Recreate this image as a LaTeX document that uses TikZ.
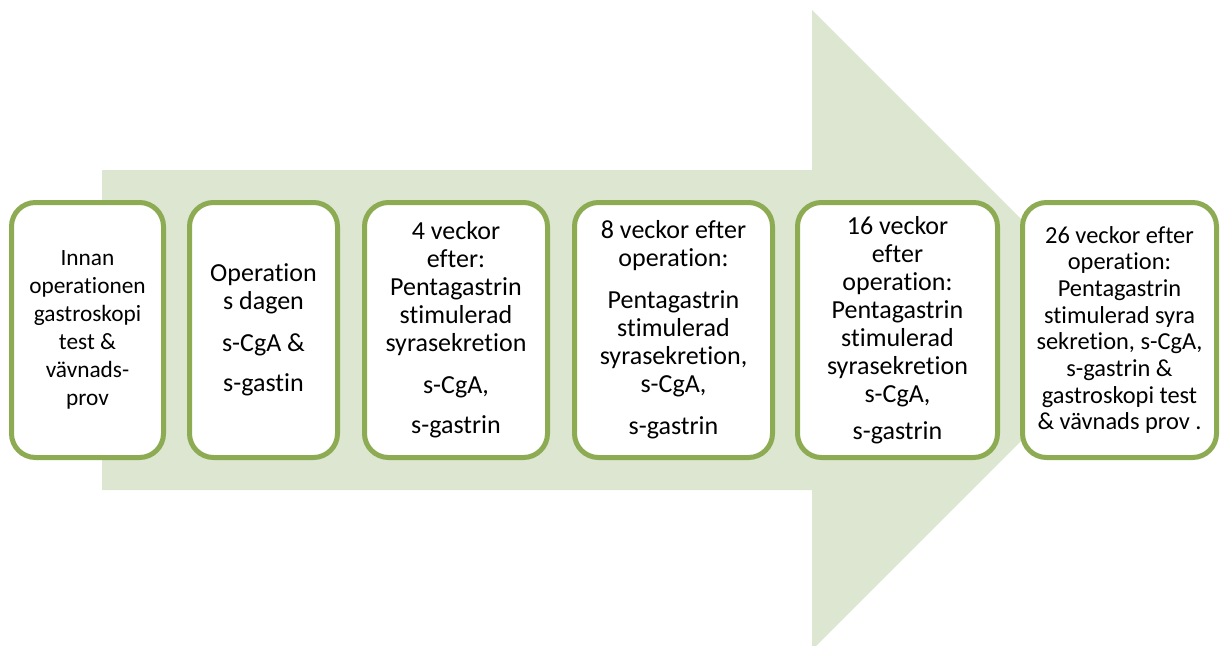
\documentclass[tikz,border=0pt]{standalone}
\usepackage{fontspec}
\setmainfont{Carlito}[RawFeature={-liga;-clig}]
\definecolor{boxgreen}{HTML}{8CAB52}
\definecolor{arrowgreen}{HTML}{DCE6D1}
\begin{document}
\begin{tikzpicture}[x=0.75pt,y=-0.75pt,
  box/.style={draw=boxgreen, line width=3.75pt, fill=white, rounded corners=18pt,
    minimum height=191.25pt, align=center, inner sep=0pt,
    font=\fontsize{19.5}{21}\selectfont}]
\useasboundingbox (0,0) rectangle (1221,646);
% broad background arrow
\begin{scope}
  \clip (0,0) rectangle (1221,646);
  \fill[arrowgreen] (102,170) -- (812,170) -- (812,10) -- (1132,330)
    -- (812,650) -- (812,490) -- (102,490) -- cycle;
\end{scope}
% timeline stages
\node[box, minimum width=114pt, font=\fontsize{17.5}{21}\selectfont] (b1) at (87.5,330)
  {Innan\\operationen\\gastroskopi\\test \&\\vävnads-\\prov};
\node[box, minimum width=111pt] (b2) at (263.5,330)
  {Operation\\s dagen\\[10.5pt]s-CgA \&\\[9pt]s-gastin};
\node[box, minimum width=137.25pt] (b3) at (456,330)
  {4 veckor\\efter:\\Pentagastrin\\stimulerad\\syrasekretion\\[10.5pt]s-CgA,\\[9pt]s-gastrin};
\node[box, minimum width=148.5pt] (b4) at (673.5,330)
  {8 veckor efter\\operation:\\[10.5pt]Pentagastrin\\stimulerad\\syrasekretion,\\s-CgA,\\[10.5pt]s-gastrin};
\node[box, minimum width=150pt] (b5) at (897.5,330)
  {16 veckor\\efter\\operation:\\Pentagastrin\\stimulerad\\syrasekretion\\s-CgA,\\[7pt]s-gastrin};
\node[box, minimum width=145.5pt, font=\fontsize{18.3}{20}\selectfont] (b6) at (1119.5,330)
  {26 veckor efter\\operation:\\Pentagastrin\\stimulerad syra\\sekretion, s-CgA,\\s-gastrin \&\\gastroskopi test\\\& vävnads prov .};
\end{tikzpicture}
\end{document}
